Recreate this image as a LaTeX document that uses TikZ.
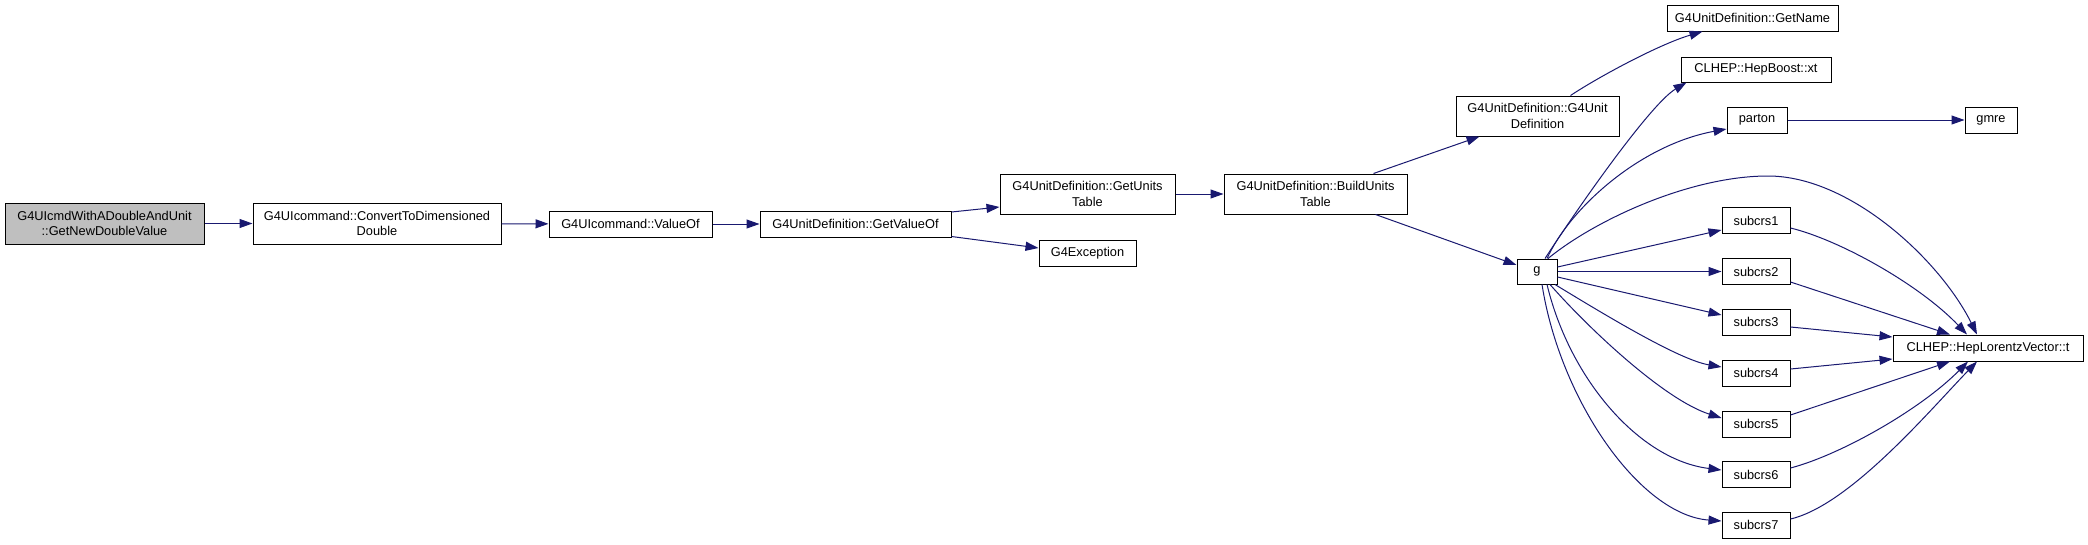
\documentclass[tikz,border=0pt]{standalone}
\usepackage{fontspec}
\setmainfont{Liberation Sans}
\usetikzlibrary{arrows.meta}
\definecolor{edgeblue}{HTML}{191970}
\definecolor{rootgrey}{HTML}{BFBFBF}
\tikzset{
  box/.style={draw=black, line width=1pt, fill=white, inner sep=0pt, align=center,
    text=black, font=\fontsize{12.8}{15.5}\selectfont},
  sz/.style 2 args={minimum width=#1pt, minimum height=#2pt},
  edge/.style={draw=edgeblue, line width=1pt, -{Triangle[length=13pt,width=9pt]}}
}
\begin{document}
\begin{tikzpicture}[x=1pt,y=-1pt]
\useasboundingbox (0,0) rectangle (2088,544);
\fill[white] (0,0) rectangle (2088,544);
% nodes
\node[box, sz={199}{41}, fill=rootgrey] (root) at (104.5,223.5) {G4UIcmdWithADoubleAndUnit\\::GetNewDoubleValue};
\node[box, sz={248}{41}] (conv) at (377,223.5) {G4UIcommand::ConvertToDimensioned\\Double};
\node[box, sz={163}{26}] (valueof) at (630.5,224) {G4UIcommand::ValueOf};
\node[box, sz={191}{26}] (getvalueof) at (855.5,224) {G4UnitDefinition::GetValueOf};
\node[box, sz={175}{40}] (getunits) at (1087.5,194) {G4UnitDefinition::GetUnits\\Table};
\node[box, sz={97}{26}] (g4exc) at (1087.5,253) {G4Exception};
\node[box, sz={183}{40}] (build) at (1315.5,194) {G4UnitDefinition::BuildUnits\\Table};
\node[box, sz={163}{40}] (ctor) at (1537.5,116) {G4UnitDefinition::G4Unit\\Definition};
\node[box, sz={171}{26}] (getname) at (1752.5,18) {G4UnitDefinition::GetName};
\node[box, sz={150}{25}] (xt) at (1756,69.5) {CLHEP::HepBoost::xt};
\node[box, sz={60}{26}] (parton) at (1757,120) {parton};
\node[box, sz={52}{26}] (gmre) at (1991,120) {gmre};
\node[box, sz={40}{25}] (g) at (1537,271.5) {g};
\node[box, sz={68}{26}] (s1) at (1756,220.5) {subcrs1};
\node[box, sz={68}{26}] (s2) at (1756,271.5) {subcrs2};
\node[box, sz={68}{26}] (s3) at (1756,322) {subcrs3};
\node[box, sz={68}{26}] (s4) at (1756,373) {subcrs4};
\node[box, sz={68}{26}] (s5) at (1756,424) {subcrs5};
\node[box, sz={68}{26}] (s6) at (1756,474.5) {subcrs6};
\node[box, sz={68}{26}] (s7) at (1756,525) {subcrs7};
\node[box, sz={190}{26}] (clhep) at (1988,348) {CLHEP::HepLorentzVector::t};
% edges
\draw[edge] (root) -- (conv);
\draw[edge] (conv) -- (valueof);
\draw[edge] (valueof) -- (getvalueof);
\draw[edge] ([yshift=-1.5pt]getvalueof.north east) -- ([yshift=-13pt]getunits.west);
\draw[edge] ([yshift=1pt]getvalueof.south east) -- ([yshift=5pt]g4exc.west);
\draw[edge] (getunits) -- (build);
\draw[edge] ([xshift=-34pt]build.north east) -- ([xshift=24pt]ctor.south west);
\draw[edge] ([xshift=-32pt]build.south east) -- ([yshift=6.5pt]g.west);
\draw[edge] ([xshift=-49pt]ctor.north east) .. controls (1600,76) and (1660,44) .. ([xshift=36pt]getname.south west);
\draw[edge] ([xshift=8pt]g.north) .. controls (1585,197) and (1652,103) .. ([xshift=6pt]xt.south west);
\draw[edge] ([xshift=10pt]g.north) .. controls (1570,208) and (1640,145) .. ([yshift=-9pt]parton.west);
\draw[edge] ([xshift=11pt]g.north) .. controls (1595,220) and (1690,176) .. (1768,176) .. controls (1850,176) and (1940,260) .. ([xshift=-11pt]clhep.north);
\draw[edge] ([yshift=4.5pt]g.east) -- ([yshift=-9.5pt]s1.west);
\draw[edge] (g) -- (s2);
\draw[edge] ([yshift=-5.5pt]g.east) -- ([yshift=7pt]s3.west);
\draw[edge] ([xshift=18pt]g.south) .. controls (1610,318) and (1680,360) .. ([yshift=6pt]s4.west);
\draw[edge] ([xshift=13pt]g.south) .. controls (1590,330) and (1665,400) .. ([yshift=6pt]s5.west);
\draw[edge] ([xshift=10pt]g.south) .. controls (1570,380) and (1640,460) .. ([yshift=4.5pt]s6.west);
\draw[edge] ([xshift=5pt]g.south) .. controls (1560,400) and (1640,515) .. ([yshift=4pt]s7.west);
\draw[edge] ([yshift=-7.5pt]s1.east) .. controls (1840,240) and (1920,285) .. ([xshift=-21pt]clhep.north);
\draw[edge] ([yshift=-10.5pt]s2.east) -- ([xshift=-38pt]clhep.north);
\draw[edge] ([yshift=-5pt]s3.east) -- ([yshift=11pt]clhep.west);
\draw[edge] ([yshift=4pt]s4.east) -- ([yshift=-11pt]clhep.west);
\draw[edge] ([yshift=9pt]s5.east) -- ([xshift=-38pt]clhep.south);
\draw[edge] ([yshift=6.5pt]s6.east) .. controls (1840,455) and (1920,410) .. ([xshift=-20pt]clhep.south);
\draw[edge] ([yshift=6pt]s7.east) .. controls (1850,505) and (1930,410) .. ([xshift=-11pt]clhep.south);
\draw[edge] (parton) -- (gmre);
\end{tikzpicture}
\end{document}
